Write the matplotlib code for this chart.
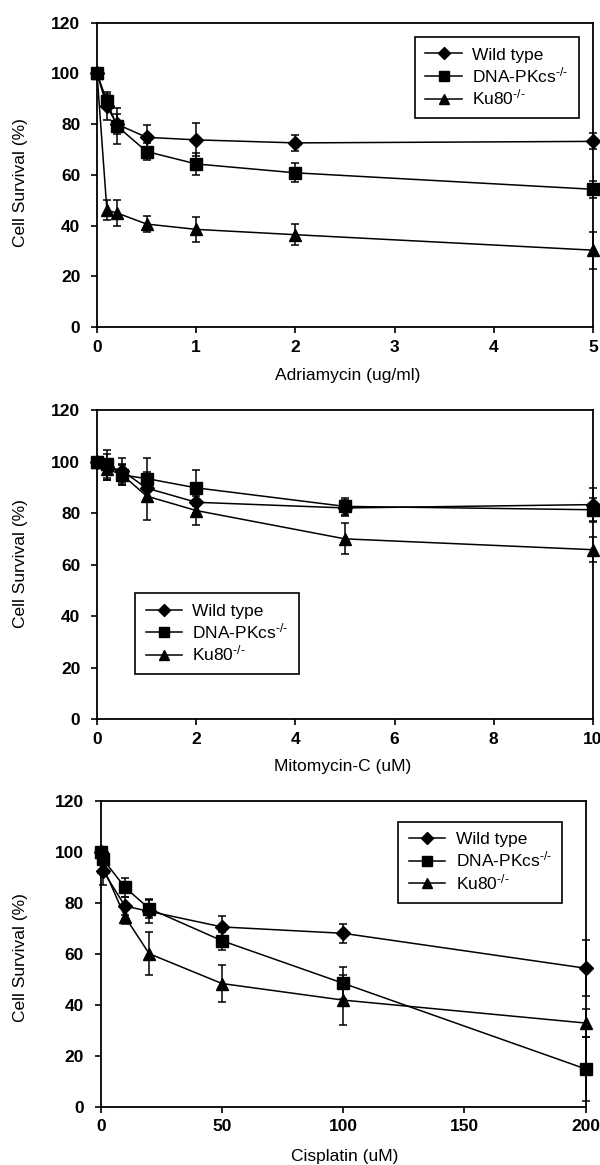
import matplotlib
matplotlib.use("Agg")
import matplotlib.pyplot as plt
from matplotlib.ticker import FixedLocator
from matplotlib.lines import Line2D

plt.rcParams['font.family'] = ['Liberation Sans', 'DejaVu Sans']
plt.rcParams['mathtext.fontset'] = 'custom'
plt.rcParams['mathtext.rm'] = 'Liberation Sans'
plt.rcParams['mathtext.it'] = 'Liberation Sans:italic'
plt.rcParams['mathtext.bf'] = 'Liberation Sans:bold'

# ---------------- data ----------------
series_names = ['Wild type', 'DNA-PKcs$^{\\text{-/-}}$', 'Ku80$^{\\text{-/-}}$']

adr_x = [0, 0.1, 0.2, 0.5, 1, 2, 5]
adr_wt = [100, 87, 80, 74.8, 73.8, 72.6, 73.2]
adr_wt_err = [0, 5.5, 4, 5, 6.5, 3, 3.2]
adr_dna = [100, 89, 79.3, 69.2, 64.3, 60.8, 54.3]
adr_dna_err = [0, 3, 7, 3.3, 4.3, 3.7, 3.3]
adr_ku = [100, 46, 45, 40.6, 38.5, 36.4, 30.3]
adr_ku_err = [0, 4, 5, 3.3, 4.8, 4.2, 7.3]

mit_x = [0, 0.2, 0.5, 1, 2, 5, 10]
mit_wt = [100, 98, 96.5, 89.7, 84.2, 82, 83.3]
mit_wt_err = [0, 5, 5, 5, 4, 3, 6.4]
mit_dna = [100, 99, 94.8, 93.4, 89.8, 82.6, 81.3]
mit_dna_err = [0, 5.5, 4, 7.8, 7, 3.3, 4.6]
mit_ku = [100, 97, 95, 86.6, 81, 70, 65.8]
mit_ku_err = [0, 4, 4, 9.3, 5.8, 6, 4.8]

cis_x = [0, 1, 10, 20, 50, 100, 200]
cis_wt = [100, 92.5, 78.7, 76.6, 70.5, 68, 54.3]
cis_wt_err = [0, 5.5, 3.4, 4.4, 4.2, 3.8, 11]
cis_dna = [100, 97, 86, 77.7, 65.1, 48.4, 14.8]
cis_dna_err = [0, 2, 3.8, 3.6, 3.5, 6.3, 12.7]
cis_ku = [100, 94, 74.5, 60, 48.3, 41.8, 32.8]
cis_ku_err = [0, 3, 2.7, 8.4, 7.2, 9.8, 5.4]

y_ticks = [0, 20, 40, 60, 80, 100, 120]
adr_ticks = [0, 1, 2, 3, 4, 5]
mit_ticks = [0, 2, 4, 6, 8, 10]
cis_ticks = [0, 50, 100, 150, 200]

W, H = 600, 1165
fig = plt.figure(figsize=(W / 100, H / 100), dpi=100)

markers = ['D', 's', '^']
msizes = [7.5, 8.5, 8.5]


def axes_rect(left, right, top, bottom):
    return [left / W, 1 - bottom / H, (right - left) / W, (bottom - top) / H]


def panel(rect, x, ys, errs, xlim, xticks, leg_anchor, ylab_y):
    ax = fig.add_axes(rect)
    handles = []
    for y, e, m, ms, name in zip(ys, errs, markers, msizes, series_names):
        ax.errorbar(x, y, yerr=e, color='black', lw=1.1, marker=m, ms=ms,
                    mfc='black', mec='black', capsize=3, capthick=1.1,
                    elinewidth=1.1, clip_on=False, zorder=3)
        handles.append(Line2D([], [], color='black', lw=1.1, marker=m,
                              ms=ms - 1.5, mfc='black', mec='black',
                              label=name))
    ax.set_xlim(*xlim)
    ax.set_ylim(0, 120)
    ax.xaxis.set_major_locator(FixedLocator(xticks))
    ax.yaxis.set_major_locator(FixedLocator(y_ticks))
    ax.set_xticklabels([str(t) for t in xticks])
    ax.set_yticklabels([str(t) for t in y_ticks])
    for s in ax.spines.values():
        s.set_linewidth(1.3)
        s.set_color('black')
    ax.tick_params(axis='both', direction='out', length=4, width=1.2,
                   labelsize=12.5, colors='black')
    ax.tick_params(axis='x', pad=5)
    ax.tick_params(axis='y', pad=8)
    for lab in ax.get_xticklabels() + ax.get_yticklabels():
        lab.set_fontweight('bold')
    leg = ax.legend(handles=handles, loc='upper left', bbox_to_anchor=leg_anchor,
                    frameon=True, fancybox=False, shadow=False, fontsize=12.5,
                    handlelength=2.1, handletextpad=0.6, labelspacing=0.15,
                    borderpad=0.6, borderaxespad=0.0, edgecolor='black',
                    framealpha=1.0)
    leg.get_frame().set_linewidth(1.2)
    fig.text(21 / W, 1 - ylab_y / H, 'Cell Survival (%)', rotation=90,
             ha='center', va='center', fontsize=12.5)
    return ax


ax1 = panel(axes_rect(97, 593, 22.7, 327), adr_x,
            [adr_wt, adr_dna, adr_ku], [adr_wt_err, adr_dna_err, adr_ku_err],
            (0, 5), adr_ticks, (0.641, 0.953), 183)
fig.text(348 / W, 1 - 375 / H, 'Adriamycin (ug/ml)', ha='center', va='center',
         fontsize=12.5)

ax2 = panel(axes_rect(97, 593, 410, 719.3), mit_x,
            [mit_wt, mit_dna, mit_ku], [mit_wt_err, mit_dna_err, mit_ku_err],
            (0, 10), mit_ticks, (0.077, 0.408), 564)
fig.text(343 / W, 1 - 766 / H, 'Mitomycin-C (uM)', ha='center', va='center',
         fontsize=12.5)

ax3 = panel(axes_rect(100.7, 585.7, 800.7, 1106.7), cis_x,
            [cis_wt, cis_dna, cis_ku], [cis_wt_err, cis_dna_err, cis_ku_err],
            (0, 200), cis_ticks, (0.614, 0.931), 958)
fig.text(345 / W, 1 - 1156 / H, 'Cisplatin (uM)', ha='center', va='center',
         fontsize=12.5)

fig.savefig('out.png', dpi=100, facecolor='white')
